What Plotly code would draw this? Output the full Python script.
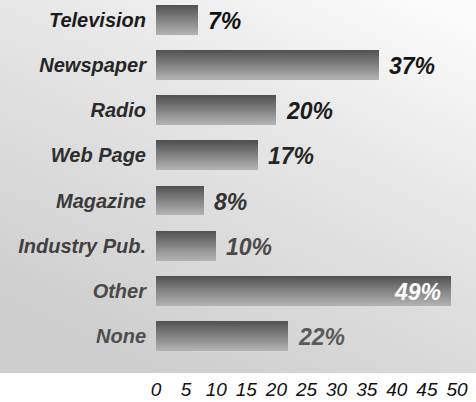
import base64
import plotly.graph_objects as go

# --- data -------------------------------------------------------------
categories = ["Television", "Newspaper", "Radio", "Web Page",
              "Magazine", "Industry Pub.", "Other", "None"]
percent = [7, 37, 20, 17, 8, 10, 49, 22]
x_ticks = [0, 5, 10, 15, 20, 25, 30, 35, 40, 45, 50]

# --- styling ----------------------------------------------------------
W, H = 476, 402
M_L, M_R, M_T, M_B = 156, 19, 0, 29
FONT = "Liberation Sans, Arial, Helvetica, sans-serif"

label_colors = ["#1c1c1c", "#262626", "#2a2a2a", "#2e2e2e",
                "#3a3a3a", "#404040", "#4a4a4a", "#4e4e4e"]
value_colors = ["#111111", "#161616", "#1c1c1c", "#262626",
                "#333333", "#4a4a4a", "#ffffff", "#5a5a5a"]

BAR_W = 0.64          # bar thickness in category units
N_SLICES = 28         # horizontal bands used to shade each bar
TOP_RGB = (0x52, 0x52, 0x52)
BOT_RGB = (0xb0, 0xb0, 0xb0)


def mix(a, b, t):
    return "rgb({},{},{})".format(*[round(a[i] + (b[i] - a[i]) * t) for i in range(3)])


fig = go.Figure()

# each bar is built from thin stacked bands, dark on top, light at the bottom
step = BAR_W / N_SLICES
for k in range(N_SLICES):
    t = k / (N_SLICES - 1)
    w = step if k == N_SLICES - 1 else step * 1.6
    fig.add_trace(go.Bar(
        x=percent, y=categories, orientation="h",
        offset=-BAR_W / 2 + k * step, width=w,
        marker=dict(color=mix(TOP_RGB, BOT_RGB, t), line=dict(width=0)),
        hoverinfo="skip", showlegend=False,
    ))

# percentage labels
annotations = []
for cat, val, col in zip(categories, percent, value_colors):
    inside = val >= 45
    annotations.append(dict(
        x=val, y=cat, xref="x", yref="y",
        text=f"{val}%", showarrow=False,
        xanchor="right" if inside else "left",
        xshift=-8 if inside else 8, yshift=-1,
        font=dict(family=FONT, size=23, color=col, weight="bold", style="italic"),
    ))

# shaded backdrop panel behind the plot
pw = W - M_L - M_R
ph = H - M_T - M_B
svg = (
    '<svg xmlns="http://www.w3.org/2000/svg" width="476" height="373" '
    'viewBox="0 0 476 373" preserveAspectRatio="none">'
    '<defs><linearGradient id="g" x1="0.9" y1="0" x2="0.3" y2="1">'
    '<stop offset="0" stop-color="#fbfbfb"/>'
    '<stop offset="0.4" stop-color="#e6e6e6"/>'
    '<stop offset="1" stop-color="#cdcdcd"/>'
    '</linearGradient></defs>'
    '<rect width="476" height="373" fill="url(#g)"/></svg>'
)
bg_src = "data:image/svg+xml;base64," + base64.b64encode(svg.encode()).decode()

tick_text = [f'<span style="color:{c}">{name}</span>'
             for name, c in zip(categories, label_colors)]

fig.update_layout(
    width=W, height=H,
    margin=dict(l=M_L, r=M_R, t=M_T, b=M_B, pad=0),
    barmode="overlay",
    bargap=0,
    paper_bgcolor="white",
    plot_bgcolor="rgba(0,0,0,0)",
    showlegend=False,
    annotations=annotations,
    images=[dict(
        source=bg_src, xref="paper", yref="paper",
        x=-M_L / pw, y=1, sizex=W / pw, sizey=1,
        xanchor="left", yanchor="top", sizing="stretch", layer="below",
    )],
    xaxis=dict(
        range=[0, 50], tickvals=x_ticks, ticktext=[str(v) for v in x_ticks],
        showgrid=False, zeroline=False, showline=False, ticks="",
        tickfont=dict(family=FONT, size=19, color="#111111", style="italic"),
        ticklabelstandoff=3, fixedrange=True,
    ),
    yaxis=dict(
        type="category", categoryorder="array", categoryarray=categories,
        range=[7.82, -0.443],
        tickvals=categories, ticktext=tick_text,
        showgrid=False, zeroline=False, showline=False, ticks="",
        tickfont=dict(family=FONT, size=20, color="#2a2a2a",
                      weight="bold", style="italic"),
        ticklabelstandoff=9, fixedrange=True,
    ),
)

fig.write_html("out.html", config={"displayModeBar": False})
